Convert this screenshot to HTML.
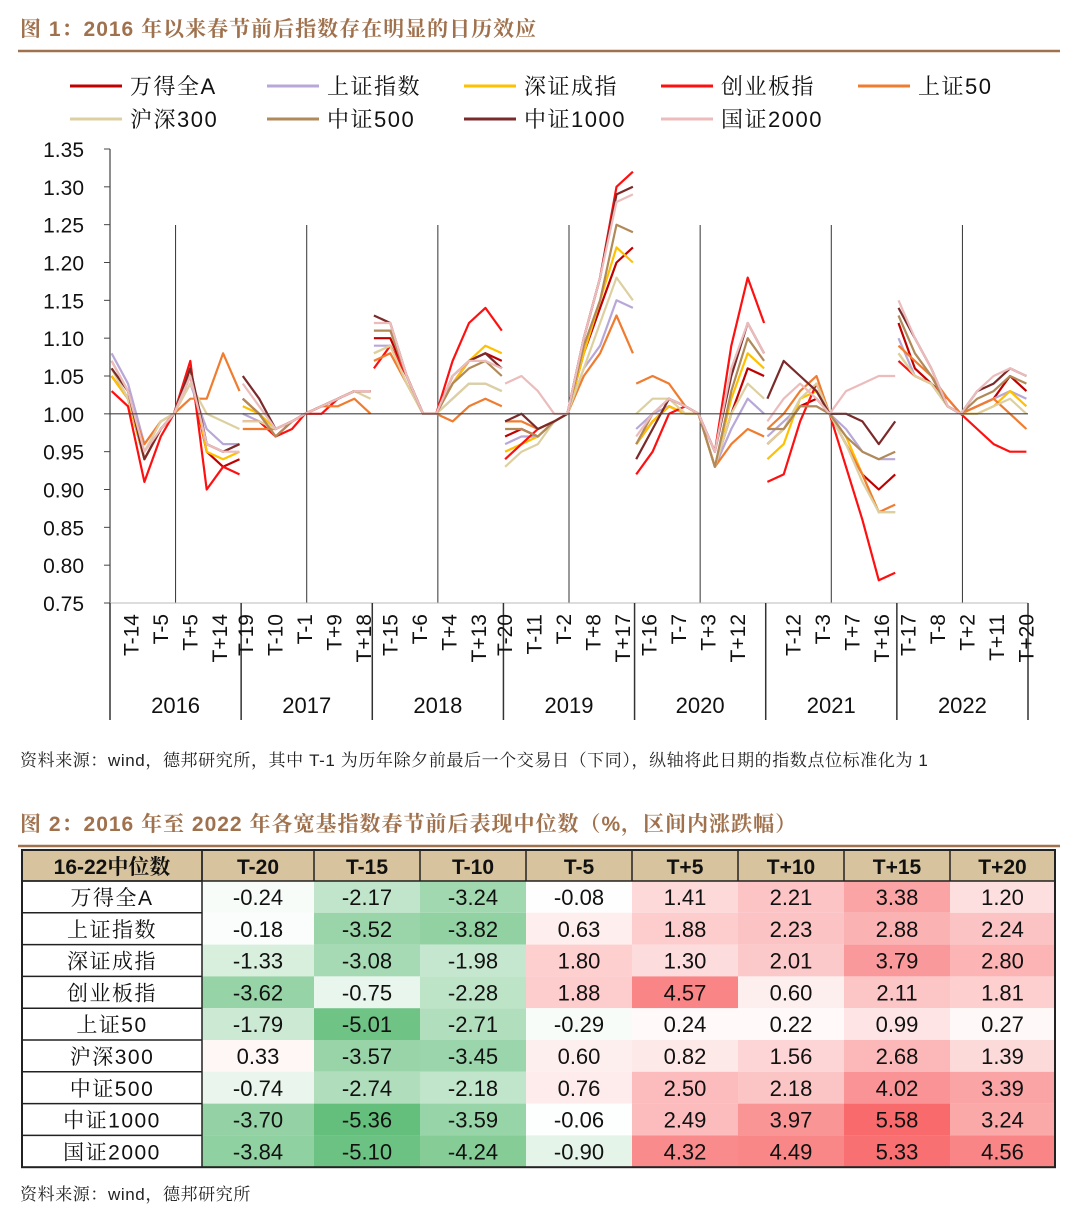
<!DOCTYPE html>
<html><head><meta charset="utf-8"><style>
body{margin:0;background:#fff;width:1080px;height:1216px;overflow:hidden;font-family:"Liberation Sans","Noto Serif CJK SC",serif}
svg{position:absolute;left:0;top:0}
</style></head><body>
<svg id="chart" width="1080" height="1216" xmlns="http://www.w3.org/2000/svg" font-family="Liberation Sans, Noto Serif CJK SC, serif">
<text x="20" y="36" font-size="21" font-weight="bold" fill="#a0714d" letter-spacing="1">图 1：2016 年以来春节前后指数存在明显的日历效应</text>
<line x1="18" y1="51" x2="1060" y2="51" stroke="#a0714d" stroke-width="2.5"/>
<g id="legend"></g>
<g id="grid"></g>
<g id="lines"></g>
<g id="axes"></g>
<text x="20" y="766" font-size="17" fill="#222" letter-spacing="0.6">资料来源：wind，德邦研究所，其中 T-1 为历年除夕前最后一个交易日（下同），纵轴将此日期的指数点位标准化为 1</text>
<text x="20" y="831" font-size="21" font-weight="bold" fill="#a0714d" letter-spacing="1">图 2：2016 年至 2022 年各宽基指数春节前后表现中位数（%，区间内涨跌幅）</text>
<line x1="18" y1="846" x2="1060" y2="846" stroke="#a0714d" stroke-width="2.5"/>
<g id="table"></g>
<text x="20" y="1200" font-size="17" fill="#222" letter-spacing="0.6">资料来源：wind，德邦研究所</text>
</svg>
<script>
const seriesNames=["万得全A","上证指数","深证成指","创业板指","上证50","沪深300","中证500","中证1000","国证2000"];
const years=["2016","2017","2018","2019","2020","2021","2022"];
const yTicks=[1.35,1.30,1.25,1.20,1.15,1.10,1.05,1.00,0.95,0.90,0.85,0.80,0.75];
const sampleDays=[0,5,10,15,19,24,29,34,39];
const tickLabels=[["T-14","T-5","T+5","T+14"],["T-19","T-10","T-1","T+9","T+18"],["T-15","T-6","T+4","T+13"],["T-20","T-11","T-2","T+8","T+17"],["T-16","T-7","T+3","T+12"],["T-12","T-3","T+7","T+16"],["T-17","T-8","T+2","T+11","T+20"]];
const tickDays=[[6,15,24,33],[1,10,19,28,37],[5,14,23,32],[0,9,18,27,36],[4,13,22,31],[8,17,26,35],[3,12,21,30,39]];
const sWindA=[[1.05,1.02,0.94,0.98,1.00,1.05,0.95,0.93,0.94],[1.02,1.00,0.97,0.99,1.00,1.01,1.02,1.03,1.03],[1.10,1.10,1.05,1.00,1.00,1.04,1.07,1.08,1.07],[0.97,0.98,0.97,0.99,1.00,1.08,1.14,1.20,1.22],[0.96,0.99,1.01,1.00,1.00,0.93,1.00,1.06,1.05],[0.96,0.98,1.01,1.02,1.00,0.96,0.92,0.90,0.92],[1.12,1.06,1.04,1.01,1.00,1.01,1.02,1.05,1.03]];
const sSH=[[1.08,1.04,0.96,0.99,1.00,1.04,0.98,0.96,0.96],[1.00,0.99,0.98,0.99,1.00,1.01,1.02,1.03,1.03],[1.09,1.09,1.05,1.00,1.00,1.02,1.04,1.04,1.03],[0.96,0.97,0.97,0.99,1.00,1.06,1.09,1.15,1.14],[0.98,1.00,1.01,1.00,1.00,0.93,0.98,1.02,1.00],[0.97,0.99,1.01,1.01,1.00,0.98,0.95,0.94,0.94],[1.10,1.05,1.04,1.01,1.00,1.01,1.02,1.03,1.02]];
const sSZ=[[1.05,1.02,0.94,0.98,1.00,1.06,0.95,0.94,0.95],[1.01,1.00,0.98,0.99,1.00,1.01,1.02,1.03,1.03],[1.08,1.09,1.04,1.00,1.00,1.04,1.07,1.09,1.08],[0.95,0.96,0.97,0.99,1.00,1.08,1.15,1.22,1.20],[0.96,0.99,1.01,1.00,1.00,0.93,1.02,1.08,1.06],[0.94,0.96,1.02,1.03,1.00,0.97,0.92,0.87,0.87],[1.08,1.05,1.04,1.01,1.00,1.00,1.01,1.03,1.01]];
const sCYB=[[1.03,1.01,0.91,0.97,1.00,1.07,0.90,0.93,0.92],[0.99,0.99,0.97,0.98,1.00,1.00,1.02,1.03,1.03],[1.06,1.09,1.05,1.00,1.00,1.07,1.12,1.14,1.11],[0.94,0.96,0.98,0.99,1.00,1.10,1.18,1.30,1.32],[0.92,0.95,1.00,1.01,1.00,0.95,1.09,1.18,1.12],[0.91,0.92,0.99,1.04,1.00,0.93,0.86,0.78,0.79],[1.07,1.05,1.04,1.02,1.00,0.98,0.96,0.95,0.95]];
const sSZ50=[[1.06,1.02,0.96,0.99,1.00,1.02,1.02,1.08,1.03],[0.98,0.98,0.98,0.99,1.00,1.01,1.01,1.02,1.00],[1.07,1.08,1.04,1.00,1.00,0.99,1.01,1.02,1.01],[0.99,0.99,0.98,0.99,1.00,1.05,1.08,1.13,1.08],[1.04,1.05,1.04,1.01,1.00,0.93,0.96,0.98,0.97],[0.98,1.00,1.03,1.05,1.00,0.96,0.92,0.87,0.88],[1.09,1.07,1.05,1.02,1.00,1.01,1.02,1.00,0.98]];
const sHS300=[[1.06,1.02,0.95,0.99,1.00,1.04,1.00,0.99,0.98],[0.99,0.99,0.98,0.99,1.00,1.01,1.02,1.03,1.02],[1.08,1.09,1.04,1.00,1.00,1.02,1.04,1.04,1.03],[0.93,0.95,0.96,0.99,1.00,1.06,1.12,1.18,1.15],[1.00,1.02,1.02,1.00,1.00,0.93,1.00,1.04,1.02],[0.96,0.98,1.02,1.04,1.00,0.96,0.91,0.87,0.87],[1.08,1.05,1.04,1.01,1.00,1.00,1.01,1.02,1.00]];
const sZZ500=[[1.07,1.03,0.94,0.98,1.00,1.06,0.96,0.95,0.96],[1.02,1.00,0.97,0.99,1.00,1.01,1.02,1.03,1.03],[1.11,1.11,1.05,1.00,1.00,1.04,1.06,1.07,1.05],[0.98,0.98,0.97,0.99,1.00,1.09,1.15,1.25,1.24],[0.96,1.00,1.02,1.01,1.00,0.93,1.03,1.10,1.07],[0.98,0.98,1.01,1.01,1.00,0.97,0.95,0.94,0.95],[1.13,1.08,1.05,1.01,1.00,1.02,1.03,1.05,1.04]];
const sZZ1000=[[1.06,1.03,0.94,0.98,1.00,1.06,0.96,0.95,0.96],[1.05,1.02,0.98,0.99,1.00,1.01,1.02,1.03,1.03],[1.13,1.12,1.05,1.00,1.00,1.05,1.07,1.08,1.06],[0.99,1.00,0.98,0.99,1.00,1.10,1.18,1.29,1.30],[0.94,0.98,1.02,1.01,1.00,0.95,1.05,1.12,1.08],[1.02,1.07,1.05,1.03,1.00,1.00,0.99,0.96,0.99],[1.14,1.10,1.06,1.01,1.00,1.03,1.04,1.06,1.05]];
const sGZ2000=[[1.07,1.03,0.95,0.98,1.00,1.05,0.96,0.95,0.95],[1.04,1.01,0.98,0.99,1.00,1.01,1.02,1.03,1.03],[1.12,1.12,1.05,1.00,1.00,1.05,1.07,1.07,1.06],[1.04,1.05,1.03,1.00,1.00,1.10,1.18,1.28,1.29],[0.97,1.00,1.02,1.01,1.00,0.95,1.06,1.12,1.08],[0.99,1.02,1.04,1.02,1.00,1.03,1.04,1.05,1.05],[1.15,1.10,1.06,1.01,1.00,1.03,1.05,1.06,1.05]];
const tableCols=["T-20","T-15","T-10","T-5","T+5","T+10","T+15","T+20"];
const tableVals=[[-0.24,-2.17,-3.24,-0.08,1.41,2.21,3.38,1.20],[-0.18,-3.52,-3.82,0.63,1.88,2.23,2.88,2.24],[-1.33,-3.08,-1.98,1.80,1.30,2.01,3.79,2.80],[-3.62,-0.75,-2.28,1.88,4.57,0.60,2.11,1.81],[-1.79,-5.01,-2.71,-0.29,0.24,0.22,0.99,0.27],[0.33,-3.57,-3.45,0.60,0.82,1.56,2.68,1.39],[-0.74,-2.74,-2.18,0.76,2.50,2.18,4.02,3.39],[-3.70,-5.36,-3.59,-0.06,2.49,3.97,5.58,3.24],[-3.84,-5.10,-4.24,-0.90,4.32,4.49,5.33,4.56]];

const allSeries=[sWindA,sSH,sSZ,sCYB,sSZ50,sHS300,sZZ500,sZZ1000,sGZ2000];
const colors=["#c00000","#b7a8d8","#ffc000","#ff1010","#f07c30","#ddd0a0","#b08a58","#7a2a2a","#ecbcbc"];
const NS="http://www.w3.org/2000/svg";
function el(tag,attrs,parent){const e=document.createElementNS(NS,tag);for(const k in attrs)e.setAttribute(k,attrs[k]);parent.appendChild(e);return e;}
const X0=110,X1=1028,YW=(X1-X0)/7,Y0=603,YT=149;
function yS(v){return Y0-(v-0.75)/(1.35-0.75)*(Y0-YT);}
function xS(yr,d){return X0+yr*YW+(d+0.5)*YW/40;}

const lg=document.getElementById('legend');
seriesNames.forEach((n,i)=>{const r=Math.floor(i/5),c=i%5;const x=70+c*197,y=86+r*33;
 const g=el('g',{},lg);
 
 
 el('line',{x1:x,y1:y,x2:x+52,y2:y,stroke:colors[i],'stroke-width':3},g);
 const t=el('text',{x:x+60,y:y+8,'font-size':22,fill:'#111','letter-spacing':1.5},g);t.textContent=n;});

const gr=document.getElementById('grid'),ax=document.getElementById('axes');
yTicks.forEach(v=>{const t=el('text',{x:84,y:yS(v)+8,'font-size':21,'text-anchor':'end',fill:'#111'},ax);
 
 
 t.textContent=v.toFixed(2);
 el('line',{x1:104,y1:yS(v),x2:110,y2:yS(v),stroke:'#444'},ax);});
el('line',{x1:X0,y1:YT,x2:X0,y2:Y0,stroke:'#444','stroke-width':1.2},ax);
el('line',{x1:X0,y1:yS(1),x2:X1,y2:yS(1),stroke:'#444','stroke-width':1.2},ax);
el('line',{x1:X0,y1:Y0,x2:X1,y2:Y0,stroke:'#bbb'},ax);
for(let yr=0;yr<7;yr++){
 const xm=xS(yr,19.5);
 el('line',{x1:xm,y1:225,x2:xm,y2:Y0,stroke:'#333','stroke-width':1},gr);
}
for(let yr=0;yr<=7;yr++){const x=X0+yr*YW;el('line',{x1:x,y1:Y0,x2:x,y2:720,stroke:'#333','stroke-width':1.5},ax);}
years.forEach((y,yr)=>{const t=el('text',{x:X0+(yr+0.5)*YW,y:713,'font-size':22,'text-anchor':'middle',fill:'#111'},ax);
 
 
 t.textContent=y;
 tickLabels[yr].forEach((lb,j)=>{const x=xS(yr,tickDays[yr][j])+7;
  const tt=el('text',{x:x,y:614,'font-size':21,'text-anchor':'end',fill:'#111',transform:`rotate(-90 ${x} 614)`},ax);
  
  
  tt.textContent=lb;});
});

const lgG=document.getElementById('lines');
allSeries.forEach((s,i)=>{s.forEach((vals,yr)=>{
 const pts=vals.map((v,k)=>xS(yr,sampleDays[k]).toFixed(1)+','+yS(v).toFixed(1)).join(' ');
 const p=el('polyline',{points:pts,fill:'none',stroke:colors[i],'stroke-width':2.2,'stroke-linejoin':'round'},lgG);
 
 
});});

const tb=document.getElementById('table');
const TX=[22,202,314,420,526,632,738,844,950,1055],TY0=850,HH=31,RH=31.8;
function cellColor(v){if(v<0){const f=Math.min(1,-v/5.4);return `rgb(${Math.round(255-(255-99)*f)},${Math.round(255-(255-190)*f)},${Math.round(255-(255-123)*f)})`;}
 const f=Math.min(1,v/5.6);return `rgb(${Math.round(255-(255-248)*f)},${Math.round(255-(255-105)*f)},${Math.round(255-(255-107)*f)})`;}
el('rect',{x:TX[0],y:TY0,width:TX[9]-TX[0],height:HH,fill:'#d7c49e'},tb);
const hd=["16-22中位数"].concat(tableCols);
hd.forEach((h,c)=>{const t=el('text',{x:(TX[c]+TX[c+1])/2,y:TY0+24,'font-size':21,'font-weight':'bold','text-anchor':'middle',fill:'#111'},tb);
 
 
 t.textContent=h;});
tableVals.forEach((row,r)=>{const y=TY0+HH+r*RH;
 const t=el('text',{x:(TX[0]+TX[1])/2,y:y+24,'font-size':21,'text-anchor':'middle',fill:'#111','letter-spacing':1.5},tb);
 
 
 t.textContent=seriesNames[r];
 row.forEach((v,c)=>{el('rect',{x:TX[c+1],y:y,width:TX[c+2]-TX[c+1],height:RH,fill:cellColor(v)},tb);
  const tv=el('text',{x:(TX[c+1]+TX[c+2])/2,y:y+24,'font-size':22,'text-anchor':'middle',fill:'#111'},tb);
  
  
  tv.textContent=v.toFixed(2);});
 el('line',{x1:TX[0],y1:y,x2:TX[1],y2:y,stroke:'#222','stroke-width':1.5},tb);
});
const TY1=TY0+HH+9*RH;
el('rect',{x:TX[0],y:TY0,width:TX[9]-TX[0],height:TY1-TY0,fill:'none',stroke:'#222','stroke-width':2},tb);
el('line',{x1:TX[0],y1:TY0+HH,x2:TX[9],y2:TY0+HH,stroke:'#222','stroke-width':1.5},tb);
for(let c=1;c<9;c++){el('line',{x1:TX[c],y1:TY0,x2:TX[c],y2:TY0+HH,stroke:'#222','stroke-width':1.5},tb);}
el('line',{x1:TX[1],y1:TY0,x2:TX[1],y2:TY1,stroke:'#222','stroke-width':1.5},tb);
</script>
</body></html>
